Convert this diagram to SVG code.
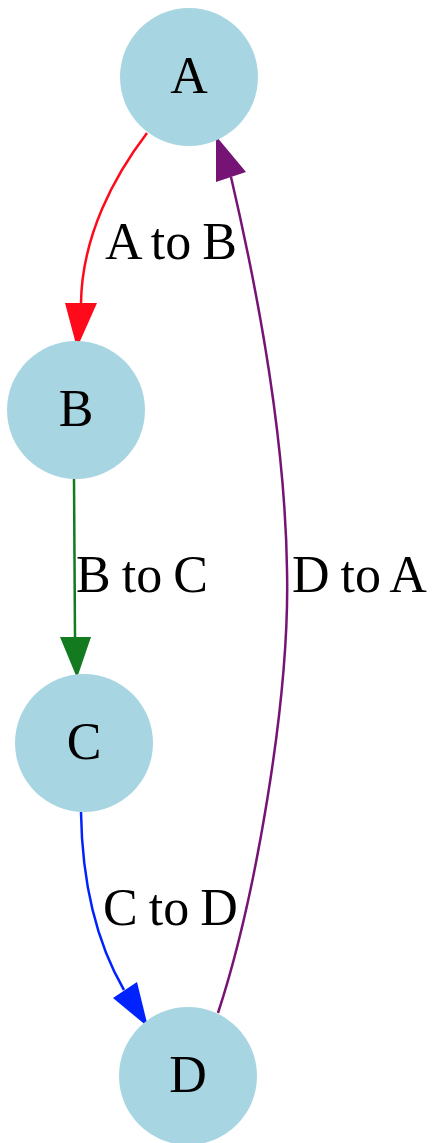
<svg xmlns="http://www.w3.org/2000/svg" width="434" height="1143" viewBox="0 0 434 1143">
<style>
.node circle{fill:#a8d5e2;stroke:none}
.node text,.label{font-family:"Liberation Serif","Times New Roman",serif;font-size:52px;fill:#000}
.label{word-spacing:-2px}
.node text{text-anchor:middle}
.edge path{fill:none;stroke-width:2.5}
</style>
<rect width="434" height="1143" fill="#fff"/>
<g id="edges">
<g class="edge" id="AtoB">
<path d="M147,133 C115,175 82,235 81,303" stroke="#ff0a1a"/>
<polygon points="65,303 97,303 77,348" fill="#ff0a1a"/>
<text class="label" x="105" y="259">A to B</text>
</g>
<g class="edge" id="BtoC">
<path d="M74,479 L75,637" stroke="#137a1f"/>
<polygon points="60,637 91,637 77,678" fill="#137a1f"/>
<text class="label" x="76" y="592">B to C</text>
</g>
<g class="edge" id="CtoD">
<path d="M81,812 C82,880 95,940 124,990" stroke="#0022ff"/>
<polygon points="113,998 137,982 148,1027" fill="#0022ff"/>
<text class="label" x="103" y="925">C to D</text>
</g>
<g class="edge" id="DtoA">
<path d="M218,1013 C255,900 290,700 287,570 C285,430 255,280 231,177" stroke="#761476"/>
<polygon points="216,182 246,172 216,136" fill="#761476"/>
<text class="label" x="292" y="592">D to A</text>
</g>
</g>
<g class="node" id="A"><circle cx="189" cy="77" r="69"/><text x="189" y="93">A</text></g>
<g class="node" id="B"><circle cx="76" cy="410" r="69"/><text x="76" y="426">B</text></g>
<g class="node" id="C"><circle cx="84" cy="743" r="69"/><text x="84" y="759">C</text></g>
<g class="node" id="D"><circle cx="188" cy="1076" r="69"/><text x="188" y="1092">D</text></g>
</svg>
